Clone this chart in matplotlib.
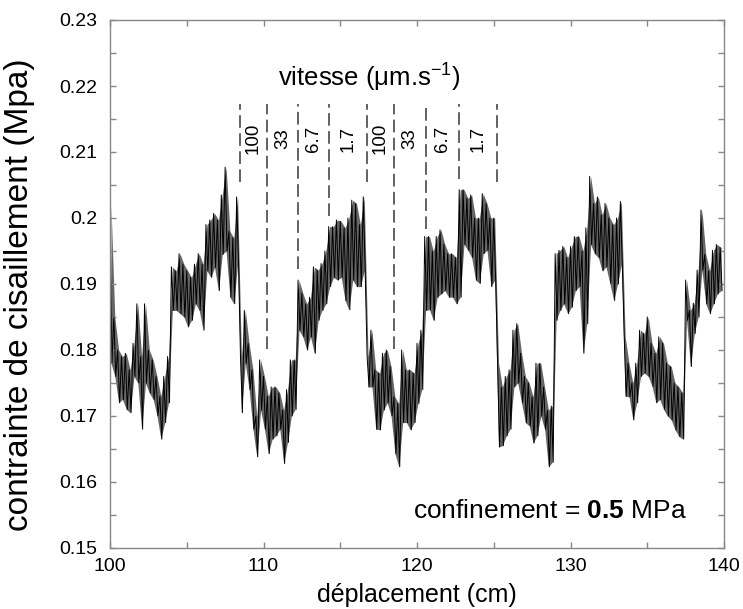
import numpy as np
import matplotlib
matplotlib.use("Agg")
import matplotlib.pyplot as plt
from matplotlib.ticker import MultipleLocator, FormatStrFormatter

plt.rcParams["font.family"] = ["Liberation Sans", "DejaVu Sans"]
plt.rcParams["mathtext.fontset"] = "custom"
plt.rcParams["mathtext.rm"] = "Liberation Sans"
plt.rcParams["mathtext.it"] = "Liberation Sans:italic"
plt.rcParams["mathtext.bf"] = "Liberation Sans:bold"

# envelope of the shear stress signal, one pair every 0.25 cm starting at 100 cm
stress_hi = [
    0.202, 0.185, 0.180, 0.179, 0.1795, 0.177, 0.181, 0.187, 0.179, 0.187,
    0.180, 0.1785, 0.176, 0.173, 0.176, 0.179, 0.1926, 0.192, 0.1946, 0.193,
    0.192, 0.191, 0.193, 0.1946, 0.193, 0.199, 0.1997, 0.2007, 0.1997, 0.2035,
    0.2077, 0.198, 0.197, 0.2032, 0.179, 0.186, 0.181, 0.177, 0.170, 0.1785,
    0.176, 0.173, 0.1744, 0.1744, 0.1735, 0.1709, 0.174, 0.1785, 0.1785, 0.1906,
    0.1886, 0.187, 0.188, 0.1926, 0.1921, 0.1931, 0.195, 0.1987, 0.1987, 0.1997,
    0.1995, 0.1985, 0.200, 0.2027, 0.2022, 0.199, 0.2032, 0.179, 0.183, 0.177,
    0.1765, 0.1795, 0.180, 0.1775, 0.1729, 0.1719, 0.180, 0.177, 0.177, 0.1765,
    0.181, 0.183, 0.1972, 0.1972, 0.195, 0.1972, 0.1982, 0.196, 0.1946, 0.1946,
    0.194, 0.2043, 0.2043, 0.203, 0.2035, 0.200, 0.200, 0.2037, 0.2022, 0.200,
    0.200, 0.178, 0.1744, 0.176, 0.177, 0.183, 0.184, 0.1795, 0.176, 0.175,
    0.1729, 0.178, 0.178, 0.1744, 0.1709, 0.1715, 0.1946, 0.1951, 0.1957, 0.194,
    0.1957, 0.1972, 0.1972, 0.195, 0.1985, 0.2063, 0.2022, 0.2032, 0.2005, 0.2022,
    0.200, 0.199, 0.200, 0.2025, 0.182, 0.178, 0.175, 0.178, 0.183, 0.1825,
    0.185, 0.181, 0.1795, 0.182, 0.181, 0.178, 0.1775, 0.175, 0.1744, 0.1735,
    0.1906, 0.186, 0.1871, 0.1921, 0.2012, 0.1945, 0.192, 0.1951, 0.196, 0.1955,
]
stress_lo = [
    0.178, 0.176, 0.172, 0.1725, 0.171, 0.1705, 0.176, 0.175, 0.168, 0.175,
    0.1735, 0.1725, 0.170, 0.1665, 0.169, 0.172, 0.186, 0.186, 0.1855, 0.185,
    0.1835, 0.1845, 0.187, 0.186, 0.183, 0.192, 0.191, 0.1925, 0.189, 0.1945,
    0.195, 0.188, 0.187, 0.193, 0.1705, 0.178, 0.174, 0.168, 0.1638, 0.1709,
    0.168, 0.1643, 0.1665, 0.167, 0.168, 0.1628, 0.166, 0.170, 0.171, 0.183,
    0.182, 0.180, 0.182, 0.1795, 0.1845, 0.186, 0.187, 0.1896, 0.191, 0.1906,
    0.191, 0.1875, 0.1861, 0.1906, 0.1896, 0.1896, 0.192, 0.1744, 0.1744, 0.168,
    0.1679, 0.1709, 0.172, 0.170, 0.1643, 0.1623, 0.169, 0.169, 0.1679, 0.169,
    0.1719, 0.174, 0.186, 0.1861, 0.1845, 0.188, 0.1885, 0.189, 0.188, 0.188,
    0.187, 0.188, 0.196, 0.1951, 0.194, 0.1906, 0.1901, 0.1946, 0.1951, 0.1896,
    0.1906, 0.1653, 0.1655, 0.167, 0.168, 0.1744, 0.175, 0.172, 0.169, 0.1685,
    0.1659, 0.167, 0.170, 0.168, 0.1623, 0.163, 0.1845, 0.186, 0.187, 0.1855,
    0.1865, 0.189, 0.1896, 0.1795, 0.184, 0.196, 0.1946, 0.194, 0.192, 0.1926,
    0.1901, 0.1875, 0.190, 0.193, 0.173, 0.1729, 0.1694, 0.172, 0.176, 0.1765,
    0.176, 0.1745, 0.172, 0.1725, 0.171, 0.170, 0.1694, 0.1679, 0.1669, 0.1665,
    0.1845, 0.1775, 0.1825, 0.185, 0.1921, 0.187, 0.1855, 0.187, 0.1885, 0.189,
]
sample_step = 0.25
sample_x = 100 + sample_step * np.arange(len(stress_hi))

# velocity changes (dashed markers)
speed_change_x = [108.47, 110.21, 112.27, 114.29, 116.72, 118.52, 120.57, 122.76, 125.19]
speed_change_bottom = [0.2055, 0.1801, 0.1923, 0.2003, 0.2055, 0.1801, 0.1983, 0.2059, 0.2055]
speed_change_top = 0.2173
speed_labels = ["100", "33", "6.7", "1.7", "100", "33", "6.7", "1.7"]

fig = plt.figure(figsize=(7.43, 6.09), dpi=100)
ax = fig.add_axes([110 / 743, 1 - 548 / 609, 614 / 743, 528 / 609])

# signal band
zig_x = np.column_stack([sample_x, sample_x + sample_step / 2]).ravel()
zig_y = np.column_stack([stress_hi, stress_lo]).ravel()
ax.fill_between(sample_x + sample_step / 4, stress_lo, stress_hi,
                color="black", alpha=0.6, linewidth=0)
ax.plot(zig_x, zig_y, color="black", lw=0.7)

for x, yb in zip(speed_change_x, speed_change_bottom):
    ax.plot([x, x], [yb, speed_change_top], color="#555555", lw=1.3,
            dashes=(7, 3))

for i, lab in enumerate(speed_labels):
    xm = 0.5 * (speed_change_x[i] + speed_change_x[i + 1])
    ax.text(xm, 0.212, lab, rotation=90, ha="center", va="center", fontsize=13.5)

ax.text(116.9, 0.2212, r"vitesse ($\mathrm{\mu}$m.s$^{-1}$)", ha="center",
        va="center", fontsize=18.5)
ax.text(137.6, 0.1556, r"confinement = $\mathbf{0.5}$ MPa", ha="right",
        va="center", fontsize=19)

ax.set_xlim(100, 140)
ax.set_ylim(0.15, 0.23)
ax.xaxis.set_major_locator(MultipleLocator(10))
ax.xaxis.set_minor_locator(MultipleLocator(5))
ax.yaxis.set_major_locator(MultipleLocator(0.01))
ax.yaxis.set_minor_locator(MultipleLocator(0.005))
ax.yaxis.set_major_formatter(FormatStrFormatter("%g"))
ax.tick_params(which="both", direction="in", top=True, right=True,
               length=4, width=1, color="#888888", labelsize=14)
ax.tick_params(axis="y", pad=9)
ax.tick_params(axis="x", pad=7)
for s in ax.spines.values():
    s.set_color("#888888")
    s.set_linewidth(1)

ax.set_xlabel("déplacement (cm)", fontsize=18, labelpad=6)
ax.set_ylabel("contrainte de cisaillement (Mpa)", fontsize=24)
ax.yaxis.set_label_coords(-0.122, 0.48)

fig.savefig("out.png", dpi=100)
